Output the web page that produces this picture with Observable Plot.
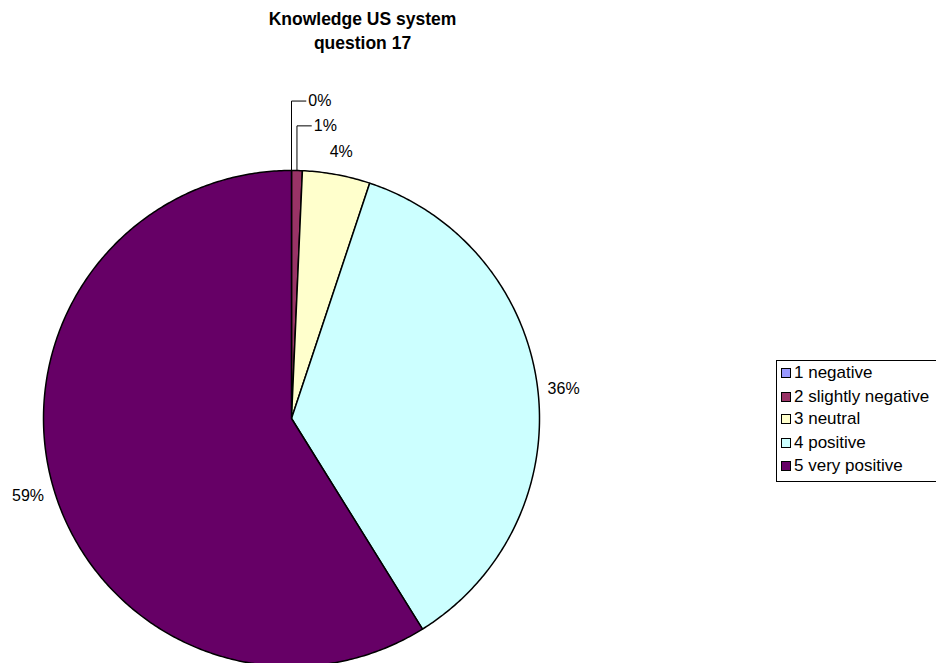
<!DOCTYPE html>
<html><head><meta charset="utf-8">
<script src="https://cdn.jsdelivr.net/npm/d3@7"></script>
<script src="https://cdn.jsdelivr.net/npm/@observablehq/plot@0.6"></script>
<style>
body{margin:0;background:#fff;font-family:"Liberation Sans",Arial,sans-serif;}
#wrap{position:relative;width:936px;height:663px;overflow:hidden;}
#title{position:absolute;left:0;top:7px;width:725px;text-align:center;font-weight:bold;font-size:17.5px;line-height:24px;color:#000;}
#chart{position:absolute;left:0;top:0;}
#legend{position:absolute;left:776px;top:360px;width:160px;height:120px;border:1px solid #000;border-right:none;font-size:17px;color:#000;}
.item{position:absolute;left:4px;height:20px;display:flex;align-items:center;white-space:nowrap;}
.sw{width:8px;height:8px;border:1px solid #000;margin-right:3px;flex:none;}
</style></head>
<body><div id="wrap"><div id="chart"></div><div id="title">Knowledge US system<br>question 17</div><div id="legend"></div></div>
<script>
const categories = ["1 negative","2 slightly negative","3 neutral","4 positive","5 very positive"];
const values = [0, 0.7, 4.4, 36.0, 58.8];
const labels = ["0%","1%","4%","36%","59%"];
const colors = ["#9999FF","#993366","#FFFFCC","#CCFFFF","#660066"];

const W = 936, H = 663, R = 248, cx = 291, cy = 418;
const data = categories.map((c, i) => ({category: c, value: values[i], label: labels[i]}));
const arcs = d3.pie().sort(null).value(d => d.value).startAngle(0).endAngle(2 * Math.PI)(data);

// slice outlines (unit radius, y up)
const pts = [];
arcs.forEach(a => {
  pts.push({category: a.data.category, x: 0, y: 0});
  const n = Math.max(2, Math.ceil((a.endAngle - a.startAngle) / 0.01));
  for (let k = 0; k <= n; k++) {
    const t = a.startAngle + (a.endAngle - a.startAngle) * k / n;
    pts.push({category: a.data.category, x: Math.sin(t), y: Math.cos(t)});
  }
});

// labels
const textPts = [], leaders = [];
const small = arcs.filter(a => a.data.value < 2);
arcs.forEach(a => {
  const m = (a.startAngle + a.endAngle) / 2;
  if (a.data.value < 2) {
    const j = small.length - 1 - small.indexOf(a);
    const lvl = 1.18 + 0.1 * j;
    const x0 = Math.sin(m), y0 = Math.cos(m);
    const x1 = x0 + 0.058;
    leaders.push({id: a.data.category, x: x0, y: y0}, {id: a.data.category, x: x0, y: lvl}, {id: a.data.category, x: x1, y: lvl});
    textPts.push({label: a.data.label, x: x1 + 0.01, y: lvl, anchor: "start"});
  } else {
    const r = 1.105;
    textPts.push({label: a.data.label, x: r * Math.sin(m), y: r * Math.cos(m) - 0.01, anchor: "middle"});
  }
});

const chart = Plot.plot({
  width: W, height: H,
  margin: 0,
  x: {domain: [-cx / R, (W - cx) / R], range: [0, W], axis: null},
  y: {domain: [-(H - cy) / R, cy / R], range: [H, 0], axis: null},
  color: {domain: categories, range: colors, type: "ordinal"},
  style: {fontFamily: "Liberation Sans, Arial, sans-serif", background: "#fff"},
  marks: [
    Plot.line(pts, {x: "x", y: "y", z: "category", fill: "category", stroke: "#000", strokeWidth: 1.5, strokeLinejoin: "round", curve: "linear-closed"}),
    Plot.line(leaders, {x: "x", y: "y", z: "id", stroke: "#000", strokeWidth: 1}),
    Plot.text(textPts.filter(d => d.anchor === "start"), {x: "x", y: "y", text: "label", textAnchor: "start", fontSize: 16, fill: "#000"}),
    Plot.text(textPts.filter(d => d.anchor === "middle"), {x: "x", y: "y", text: "label", textAnchor: "middle", fontSize: 16, fill: "#000"})
  ]
});
document.getElementById("chart").appendChild(chart);

const lg = document.getElementById("legend");
const rowY = [2, 26, 48, 72, 95];
categories.forEach((c, i) => {
  const it = document.createElement("div");
  it.className = "item";
  it.style.top = rowY[i] + "px";
  const sw = document.createElement("div");
  sw.className = "sw";
  sw.style.background = colors[i];
  it.appendChild(sw);
  it.appendChild(document.createTextNode(c));
  lg.appendChild(it);
});
</script></body></html>
